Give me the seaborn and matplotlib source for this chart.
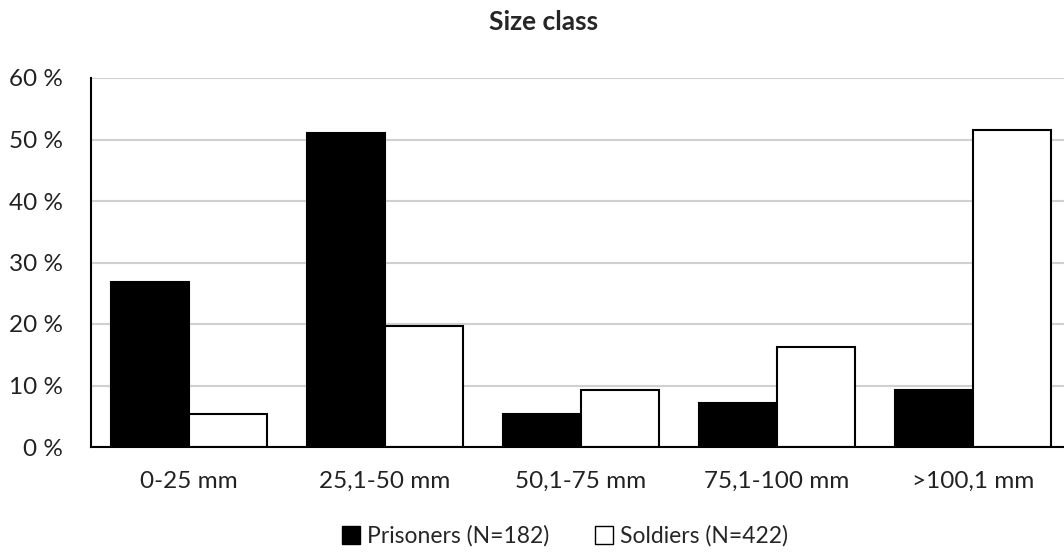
import pandas as pd
import matplotlib.pyplot as plt
import seaborn as sns
from matplotlib.patches import Patch

# 数据
size_classes = ['0-25 mm', '25,1-50 mm', '50,1-75 mm', '75,1-100 mm', '>100,1 mm']
prisoners = [26.9, 51.0, 5.4, 7.1, 9.3]
soldiers = [5.4, 19.6, 9.2, 16.3, 51.6]
series_names = ['Prisoners (N=182)', 'Soldiers (N=422)']
y_ticks = [0, 10, 20, 30, 40, 50, 60]
y_labels = [f'{v} %' for v in y_ticks]

sns.set_style('white')
plt.rcParams['font.family'] = ['Lato', 'DejaVu Sans']

df = pd.DataFrame({
    'size': size_classes * 2,
    'value': prisoners + soldiers,
    'group': [series_names[0]] * len(size_classes) + [series_names[1]] * len(size_classes),
})

fig = plt.figure(figsize=(10.64, 5.56), dpi=100)
ax = fig.add_axes([91 / 1064, 109 / 556, 980 / 1064, 369 / 556])

sns.barplot(data=df, x='size', y='value', hue='group', ax=ax,
            palette={series_names[0]: 'black', series_names[1]: 'white'},
            edgecolor='black', linewidth=1.5, width=0.8, legend=False)

ax.set_ylim(0, 60)
ax.set_xlim(-0.5, 4.5)
ax.set_yticks(y_ticks)
ax.set_yticklabels(y_labels, fontsize=17.5, color='#222222')
ax.tick_params(axis='x', labelsize=17.5, colors='#222222', length=0, pad=17)
ax.tick_params(axis='y', length=0, pad=20)
ax.set_xlabel('')
ax.set_ylabel('')
ax.yaxis.grid(True, color='#d0d0d0', linewidth=1.5)
ax.set_axisbelow(True)
for side in ['top', 'right']:
    ax.spines[side].set_visible(False)
for side in ['left', 'bottom']:
    ax.spines[side].set_color('black')
    ax.spines[side].set_linewidth(1.5)

fig.text(544 / 1064, 1 - 22 / 556, 'Size class', ha='center', va='center',
         fontsize=19, fontweight='bold')

handles = [Patch(facecolor='black', edgecolor='black', label=series_names[0]),
           Patch(facecolor='white', edgecolor='black', label=series_names[1])]
fig.legend(handles=handles, loc='center', bbox_to_anchor=(565 / 1064, 1 - 536 / 556),
           ncol=2, frameon=False, fontsize=16.5, handlelength=0.8, handleheight=0.8,
           handletextpad=0.3, columnspacing=2.0)

fig.savefig('out.png', dpi=100)
